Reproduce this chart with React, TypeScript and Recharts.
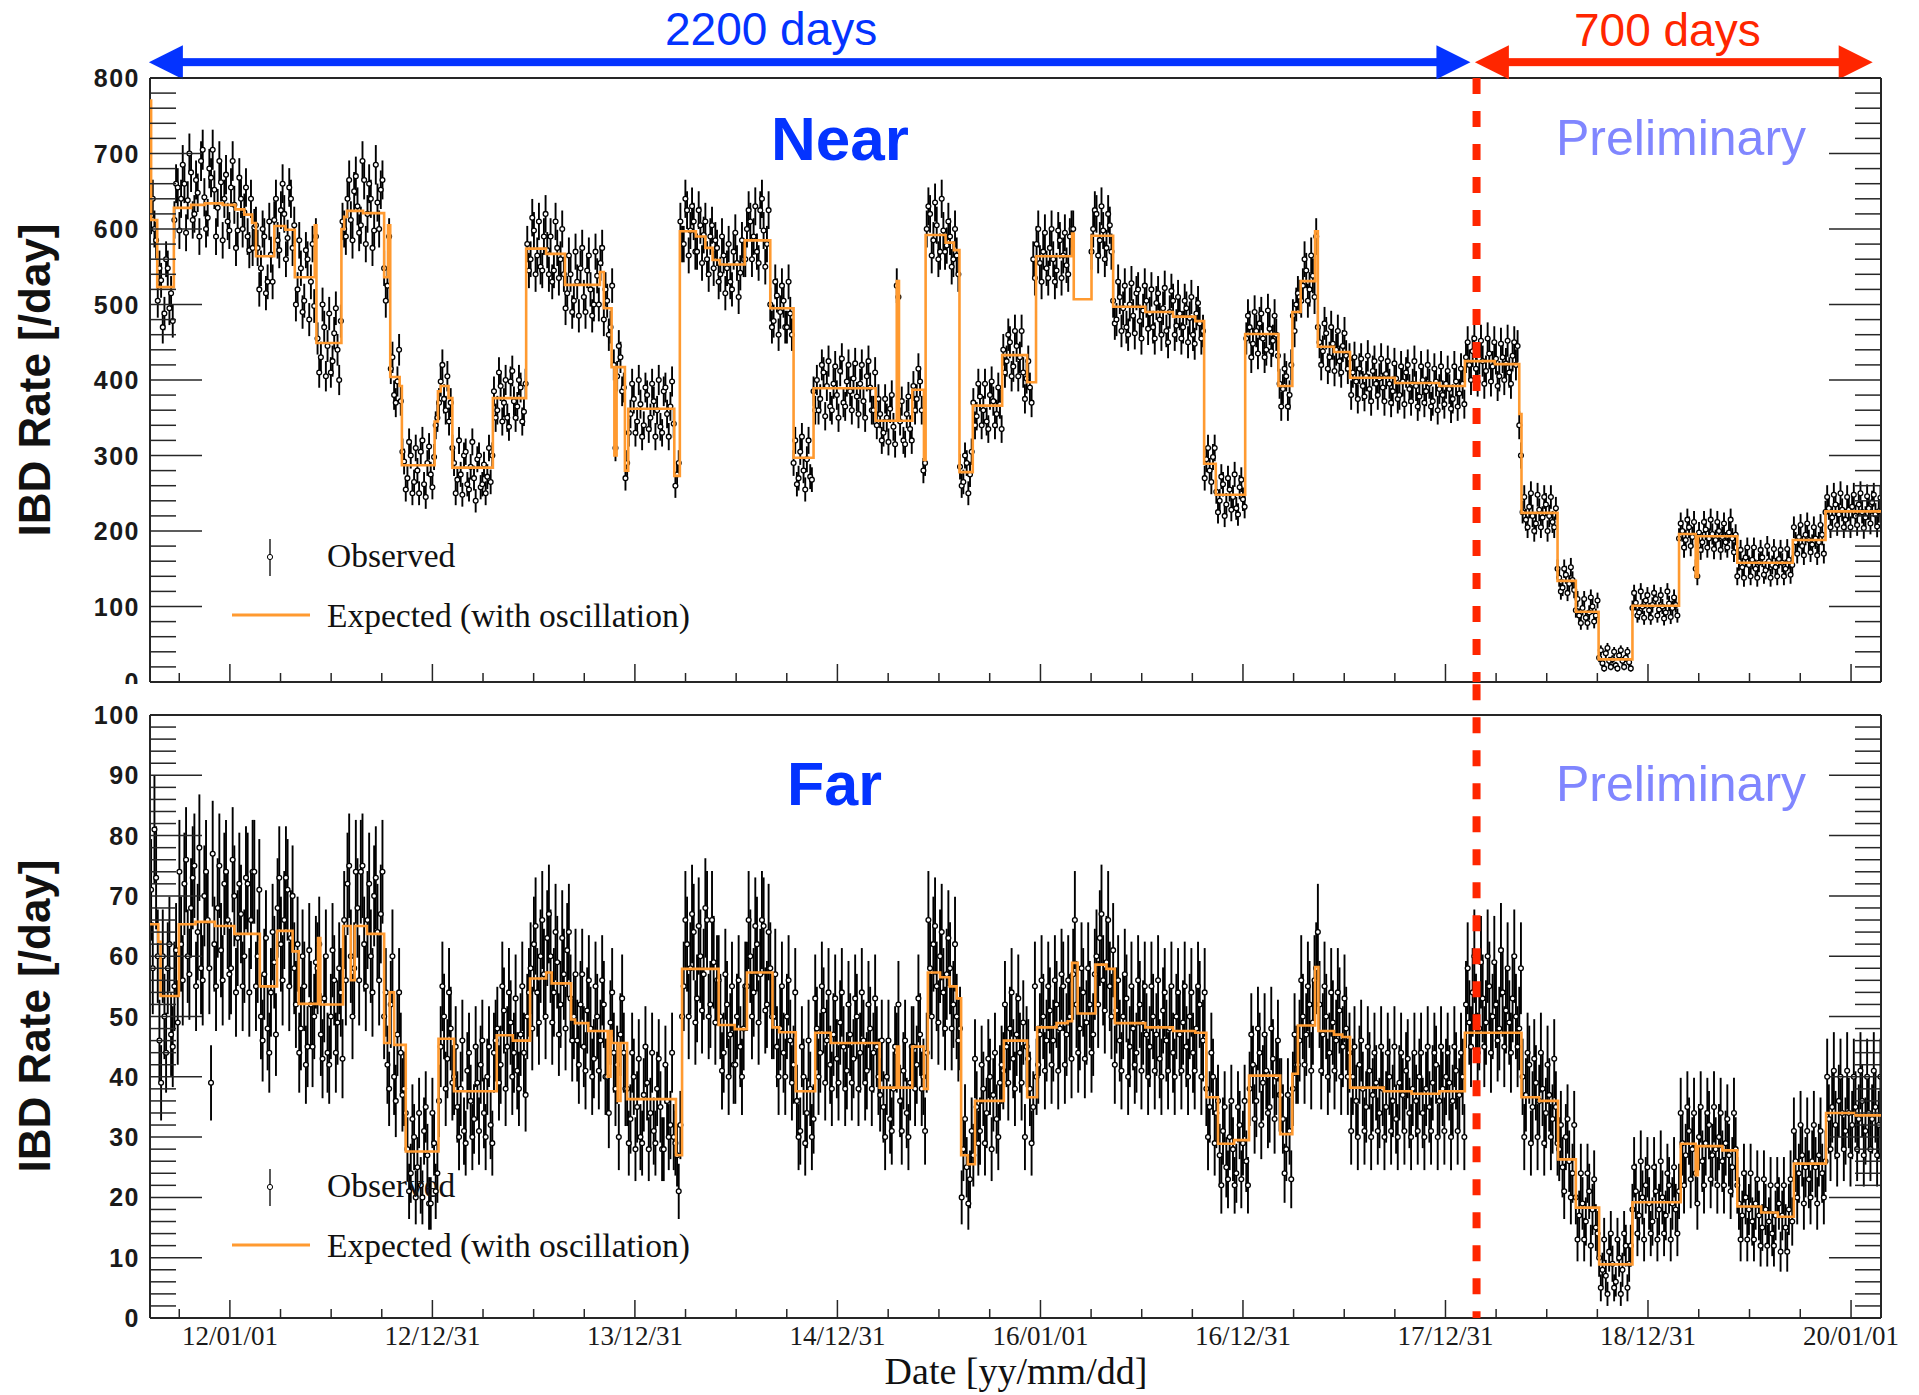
import {
  ComposedChart,
  Line,
  Scatter,
  ErrorBar,
  XAxis,
  YAxis,
  ReferenceLine,
  Legend,
} from 'recharts';

const W = 1919;
const H = 1395;

// x axis: days counted from 2012-01-01
const X_DOMAIN: [number, number] = [-144, 2976];
const DATE_TICKS = [0, 365, 730, 1095, 1461, 1826, 2191, 2556, 2922];
const DATE_LABELS = [
  '12/01/01', '12/12/31', '13/12/31', '14/12/31', '16/01/01',
  '16/12/31', '17/12/31', '18/12/31', '20/01/01',
];
const SPLIT_DAY = 2247;
const ARROW_2200: [number, number] = [-146, 2236];
const ARROW_700: [number, number] = [2244, 2961];

// observed daily rates: two interleaved runs of samples, OBS_STEP days apart
const OBS_STEP = 6;
const OBS_START_A = -142;
const OBS_START_B = -139;

// expected rate (with oscillation), step changes [day, rate]
const NEAR_EXPECTED: [number, number][] = [
  [-144, 770], [-142, 612], [-131, 523], [-101, 628], [-70, 632], [-45, 634], [-13, 632],
  [10, 626], [26, 619], [40, 608], [47, 564], [80, 604], [100, 599], [117, 536], [153, 605],
  [156, 449], [201, 600], [206, 616], [211, 624], [240, 621], [278, 536], [285, 605],
  [289, 404], [306, 392], [310, 287], [369, 345], [375, 385], [380, 392], [394, 376],
  [401, 284], [474, 376], [534, 574], [570, 567], [604, 526], [667, 543], [674, 495],
  [688, 417], [693, 300], [697, 417], [712, 280], [718, 362], [801, 273], [811, 597],
  [840, 590], [857, 575], [870, 559], [883, 553], [928, 585], [974, 495], [1016, 297],
  [1052, 389], [1164, 346], [1202, 531], [1206, 346], [1230, 387], [1251, 294], [1254, 592],
  [1290, 582], [1305, 572], [1315, 278], [1339, 366], [1392, 433], [1437, 397], [1453, 564],
  [1518, 594], [1521, 507], [1553, 591], [1592, 497], [1650, 490], [1700, 484], [1740, 478],
  [1756, 289], [1777, 248], [1830, 461], [1890, 392], [1915, 490], [1930, 531], [1956, 597],
  [1961, 444], [1990, 437], [2019, 403], [2100, 396], [2180, 392], [2226, 425], [2280, 421],
  [2324, 355], [2328, 224], [2393, 134], [2426, 93], [2467, 30], [2528, 101], [2612, 196],
  [2642, 139], [2646, 193], [2717, 158], [2817, 188], [2876, 226], [2976, 226],
];

const FAR_EXPECTED: [number, number][] = [
  [-144, 65.3], [-129, 62.4], [-125, 53.4], [-92, 65.3], [-62, 65.7], [-27, 65.0], [8, 63.7],
  [54, 55.0], [85, 64.2], [113, 60.8], [124, 52.1], [159, 63.0], [163, 52.0], [204, 65.0],
  [218, 56.0], [225, 65.0], [247, 63.7], [278, 45.6], [288, 54.0], [296, 45.3], [317, 27.6],
  [376, 46.3], [404, 37.6], [481, 46.9], [510, 46.0], [541, 56.3], [570, 57.3], [580, 55.5],
  [615, 49.5], [622, 48.9], [646, 47.6], [681, 40.0], [686, 47.6], [688, 45.6], [699, 36.0],
  [704, 45.6], [716, 36.3], [804, 27.0], [815, 57.9], [881, 48.6], [910, 47.9], [932, 57.3],
  [978, 48.2], [990, 47.4], [1020, 37.6], [1055, 47.3], [1083, 45.6], [1171, 38.2],
  [1202, 45.0], [1206, 38.2], [1230, 45.0], [1251, 38.0], [1258, 57.3], [1280, 56.5],
  [1297, 55.0], [1310, 53.0], [1318, 27.0], [1330, 25.5], [1343, 36.0], [1395, 46.0],
  [1437, 36.6], [1455, 48.2], [1490, 48.9], [1510, 49.2], [1518, 58.9], [1528, 50.5],
  [1560, 58.6], [1580, 57.9], [1595, 48.9], [1650, 48.2], [1700, 47.6], [1740, 47.3],
  [1760, 36.6], [1781, 28.9], [1810, 29.5], [1837, 40.2], [1893, 30.5], [1915, 40.5],
  [1925, 48.5], [1956, 58.2], [1962, 47.6], [1990, 47.0], [2005, 46.6], [2019, 38.2],
  [2080, 37.6], [2130, 37.2], [2180, 37.6], [2226, 47.3], [2328, 36.6], [2360, 36.0],
  [2394, 26.3], [2426, 18.3], [2468, 8.9], [2528, 19.2], [2615, 28.9], [2642, 23.7],
  [2646, 28.5], [2690, 27.8], [2717, 18.5], [2760, 17.5], [2790, 16.8], [2819, 25.6],
  [2877, 34.0], [2930, 33.6], [2976, 33.4],
];

// near detector, samples from day -142
const NEAR_OBSERVED_A: (number | null)[] = [
  618, 600, 505, 532, 488, 548, 515, 612, 655, 640,
  660, 638, 675, 620, 648, 690, 642, 615, 668, 652,
  628, 662, 640, 610, 655, 632, 598, 640, 622, 590,
  640, 602, 575, 548, 590, 530, 566, 612, 585, 625,
  620, 588, 640, 605, 520, 548, 505, 560, 530, 498,
  455, 430, 470, 445, 410, 462, 440, 478, 600, 640,
  612, 650, 630, 605, 665, 620, 640, 598, 635, 652,
  548, 525, 415, 380, 398, 372, 292, 270, 300, 265,
  280, 305, 262, 290, 275, 298, 350, 398, 375, 405,
  370, 290, 268, 275, 300, 262, 285, 270, 295, 258,
  288, 272, 265, 385, 360, 392, 370, 350, 398, 372,
  365, 390, 358, 580, 560, 598, 565, 550, 590, 572,
  590, 545, 575, 560, 540, 515, 540, 505, 530, 548,
  510, 545, 520, 500, 538, 555, 480, 505, 470, 420,
  405, 430, 390, 290, 355, 375, 345, 368, 340, 380,
  350, 372, 360, 338, 385, 355, 365, 342, 275, 610,
  580, 625, 598, 610, 570, 605, 592, 560, 590, 548,
  575, 540, 565, 548, 530, 570, 555, 542, 560, 600,
  610, 590, 570, 625, 598, 580, 500, 478, 512, 490,
  505, 470, 488, 290, 262, 305, 280, 295, 272, 385,
  400, 375, 410, 392, 365, 395, 380, 412, 370, 398,
  385, 402, 378, 395, 372, 405, 390, 360, 340, 355,
  330, 350, 362, 338, 525, 345, 320, 355, 335, 392,
  375, 398, 280, 600, 620, 585, 605, 570, 598, 578,
  590, 560, 565, 285, 265, 290, 275, 370, 352, 378,
  360, 345, 380, 372, 355, 368, 440, 425, 450, 418,
  445, 430, 410, 402, 390, 560, 580, 555, 570, 548,
  575, 560, 545, 585, 565, 552, 590, 600, null, null,
  null, null, null, 600, 620, 585, 598, 575, 605, 505,
  480, 510, 495, 470, 500, 485, 515, 478, 492, 505,
  488, 470, 502, 480, 495, 465, 490, 505, 472, 488,
  470, 495, 482, 460, 488, 475, 465, 295, 280, 298,
  252, 240, 262, 235, 255, 245, 230, 258, 242, 455,
  470, 448, 465, 475, 455, 440, 468, 452, 460, 395,
  388, 405, 380, 485, 500, 510, 525, 545, 520, 538,
  590, 450, 438, 462, 430, 448, 440, 425, 445, 432,
  428, 410, 398, 415, 392, 405, 388, 412, 395, 402,
  390, 408, 395, 385, 402, 380, 398, 410, 388, 395,
  392, 378, 400, 385, 395, 372, 398, 388, 380, 395,
  388, 375, 398, 382, 395, 430, 420, 438, 415, 428,
  425, 412, 435, 418, 428, 405, 430, 422, 410, 432,
  420, 340, 225, 215, 232, 220, 210, 228, 218, 235,
  220, 212, 230, 138, 125, 142, 130, 135, 95, 88,
  98, 85, 92, 100, 88, 32, 25, 38, 28, 30,
  22, 35, 28, 32, 26, 98, 105, 92, 100, 108,
  95, 102, 110, 96, 100, 92, 104, 98, 102, 190,
  200, 188, 205, 192, 150, 198, 185, 202, 190, 196,
  188, 200, 192, 185, 198, 190, 195, 160, 152, 165,
  155, 162, 150, 158, 165, 148, 160, 155, 152, 163,
  158, 150, 162, 155, 185, 192, 180, 195, 188, 182,
  190, 185, 195, 225, 230, 218, 235, 222, 228, 215,
  228, 232, 220, 235, 225, 218, 230, 238, 222, 226,
];

// near detector, samples from day -139
const NEAR_OBSERVED_B: (number | null)[] = [
  640, 585, 548, 470, 560, 495, 478, 660, 598, 685,
  595, 700, 612, 665, 590, 705, 600, 680, 705, 590,
  690, 585, 672, 598, 690, 575, 668, 600, 655, 572,
  575, 605, 520, 600, 515, 610, 530, 640, 572, 660,
  560, 655, 575, 500, 585, 490, 572, 480, 580, 590,
  410, 500, 405, 488, 425, 495, 400, 610, 590, 665,
  585, 670, 595, 690, 580, 660, 575, 685, 600, 665,
  505, 590, 430, 370, 440, 305, 255, 318, 250, 310,
  250, 320, 245, 312, 258, 340, 370, 420, 360, 345,
  310, 250, 320, 248, 305, 255, 318, 240, 300, 262,
  250, 310, 300, 350, 410, 345, 400, 338, 412, 350,
  400, 345, 395, 545, 615, 540, 610, 545, 620, 540,
  530, 610, 535, 600, 495, 565, 490, 570, 485, 575,
  490, 565, 485, 570, 500, 575, 520, 460, 525, 310,
  445, 385, 270, 330, 395, 330, 400, 325, 390, 335,
  395, 325, 400, 330, 390, 325, 398, 260, 290, 580,
  640, 565, 630, 570, 625, 555, 610, 540, 605, 585,
  530, 590, 515, 580, 520, 595, 510, 585, 560, 625,
  560, 630, 555, 640, 550, 625, 470, 530, 460, 525,
  470, 530, 460, 320, 270, 325, 255, 320, 268, 360,
  360, 420, 352, 425, 360, 418, 350, 428, 365, 420,
  360, 422, 355, 420, 350, 425, 360, 410, 375, 320,
  375, 318, 380, 315, 510, 372, 315, 378, 320, 360,
  415, 360, 290, 630, 565, 635, 560, 640, 570, 610,
  550, 600, 540, 260, 300, 250, 305, 340, 395, 340,
  395, 335, 398, 340, 390, 335, 410, 460, 405, 465,
  405, 465, 375, 425, 370, 535, 600, 530, 595, 535,
  600, 530, 598, 535, 595, 540, 600, null, null, null,
  null, null, 570, 625, 565, 630, 560, 620, 570, 475,
  530, 465, 525, 460, 528, 462, 520, 455, 525, 468,
  520, 455, 515, 460, 522, 450, 518, 460, 510, 455,
  505, 450, 510, 448, 502, 455, 270, 310, 265, 310,
  225, 272, 220, 270, 228, 275, 222, 268, 232, 485,
  430, 490, 435, 488, 430, 492, 438, 485, 432, 365,
  415, 365, 420, 465, 515, 505, 560, 505, 565, 510,
  470, 420, 475, 415, 470, 412, 465, 410, 462, 415,
  380, 430, 375, 428, 378, 432, 372, 425, 380, 428,
  372, 425, 370, 422, 375, 418, 368, 420, 372, 425,
  365, 418, 370, 420, 365, 415, 360, 418, 368, 412,
  362, 418, 365, 415, 368, 450, 400, 455, 398, 452,
  395, 455, 398, 450, 392, 448, 400, 452, 395, 450,
  445, 300, 245, 205, 250, 200, 248, 205, 245, 200,
  245, 205, 150, 120, 150, 118, 152, 122, 110, 78,
  110, 78, 112, 80, 108, 42, 18, 45, 20, 40,
  18, 42, 20, 40, 18, 118, 88, 120, 85, 115,
  85, 118, 88, 115, 84, 120, 86, 112, 88, 210,
  178, 215, 180, 212, 140, 175, 212, 178, 215, 176,
  212, 175, 210, 178, 215, 172, 140, 175, 138, 178,
  140, 178, 138, 175, 142, 180, 138, 176, 140, 175,
  140, 176, 142, 205, 170, 208, 168, 210, 172, 205,
  168, 208, 170, 245, 205, 248, 208, 250, 205, 245,
  205, 248, 208, 250, 204, 246, 210, 248, 206, 244,
];

// far detector, samples from day -142
const FAR_OBSERVED_A: (number | null)[] = [
  71, 81, 60, 39, 50, 58, 47, 55, 49, 62,
  72, 60, 68, 75, 64, 58, 70, 66, 39, 62,
  68, 61, 72, 66, 58, 70, 63, 67, 60, 72,
  66, 74, 60, 50, 57, 48, 54, 59, 68, 62,
  66, 71, 63, 58, 62, 48, 55, 45, 52, 50,
  58, 47, 53, 44, 50, 56, 49, 54, 66, 72,
  60, 58, 68, 74, 62, 66, 60, 70, 64, 67,
  50, 42, 52, 40, 47, 44, 38, 28, 24, 30,
  25, 22, 31, 27, 19, 29, 24, 45, 50, 43,
  48, 40, 35, 38, 31, 41, 36, 33, 39, 42,
  34, 40, 32, 44, 48, 42, 51, 45, 49, 44,
  41, 47, 44, 50, 58, 62, 54, 60, 57, 63,
  60, 54, 59, 52, 57, 61, 53, 50, 46, 52,
  45, 51, 48, 43, 50, 46, 52, 40, 49, 44,
  42, 47, 44, 38, 33, 40, 35, 30, 37, 39,
  34, 31, 38, 35, 28, 36, 32, 30, 27, 32,
  55, 62, 58, 64, 53, 60, 57, 66, 52, 59,
  56, 50, 44, 52, 47, 42, 50, 45, 48, 55,
  60, 54, 62, 57, 65, 52, 58, 50, 45, 48,
  44, 50, 46, 42, 36, 31, 40, 34, 38, 33,
  48, 44, 51, 46, 42, 47, 43, 49, 45, 41,
  47, 43, 50, 44, 46, 41, 48, 44, 45, 37,
  35, 40, 33, 38, 44, 36, 41, 34, 39, 45,
  42, 47, 40, 44, 58, 62, 55, 60, 54, 57,
  58, 52, 50, 48, 28, 25, 23, 27, 35, 31,
  38, 34, 40, 37, 33, 39, 41, 45, 48, 43,
  47, 44, 49, 45, 38, 35, 40, 47, 50, 46,
  51, 46, 52, 48, 55, 47, 50, 57, 52, 48,
  54, 49, 52, 47, 60, 63, 56, 59, 55, 61,
  51, 46, 50, 53, 45, 48, 44, 52, 49, 47,
  45, 50, 47, 43, 51, 46, 48, 44, 50, 47,
  49, 45, 50, 44, 48, 52, 46, 38, 35, 40,
  34, 27, 31, 25, 30, 28, 24, 32, 29, 26,
  38, 42, 36, 44, 39, 41, 35, 43, 40, 37,
  33, 28, 31, 38, 42, 46, 50, 47, 52, 49,
  58, 52, 47, 50, 44, 49, 46, 51, 45, 48,
  44, 40, 36, 42, 38, 35, 41, 37, 39, 34,
  38, 35, 40, 36, 33, 39, 37, 41, 34, 38,
  36, 40, 34, 38, 35, 39, 42, 36, 38, 40,
  39, 36, 41, 37, 40, 52, 49, 54, 50, 48,
  53, 49, 55, 50, 52, 48, 54, 51, 49, 53,
  50, 48, 40, 37, 42, 35, 39, 36, 38, 34,
  37, 33, 35, 28, 25, 30, 26, 24, 20, 17,
  19, 16, 21, 18, 15, 10, 8, 7, 11, 9,
  6, 10, 8, 12, 9, 18, 21, 17, 20, 22,
  19, 16, 21, 18, 20, 17, 22, 19, 18, 21,
  29, 27, 31, 28, 24, 30, 26, 29, 32, 27,
  28, 30, 26, 29, 27, 25, 28, 19, 17, 20,
  18, 16, 19, 17, 15, 18, 16, 14, 17, 19,
  17, 15, 18, 16, 26, 24, 27, 25, 23, 26,
  25, 27, 24, 26, 33, 35, 32, 36, 34, 31,
  34, 32, 35, 33, 36, 31, 34, 33, 35, 32,
];

// far detector, samples from day -139
const FAR_OBSERVED_B: (number | null)[] = [
  58, 73, 46, 60, 44, 62, 45, 61, 74, 56,
  76, 57, 73, 55, 78, 56, 74, 58, 77, 55,
  75, 56, 74, 57, 76, 54, 72, 55, 73, 54,
  74, 55, 71, 46, 63, 44, 64, 47, 73, 56,
  73, 55, 70, 52, 44, 60, 42, 61, 45, 59,
  62, 43, 60, 42, 61, 44, 58, 43, 56, 75,
  50, 74, 56, 75, 55, 72, 54, 73, 56, 74,
  54, 38, 60, 36, 54, 37, 34, 21, 33, 20,
  34, 20, 35, 19, 34, 21, 36, 55, 38, 54,
  39, 45, 30, 46, 29, 44, 30, 45, 31, 46,
  30, 45, 29, 46, 39, 55, 38, 54, 40, 53,
  38, 55, 37, 54, 48, 65, 49, 66, 50, 67,
  49, 64, 47, 63, 48, 64, 46, 57, 42, 57,
  41, 56, 40, 55, 41, 56, 40, 34, 54, 38,
  30, 53, 38, 29, 44, 28, 43, 29, 45, 28,
  44, 29, 43, 28, 42, 30, 44, 29, 21, 50,
  66, 50, 67, 49, 65, 51, 68, 50, 66, 49,
  56, 41, 57, 40, 55, 42, 56, 40, 55, 66,
  50, 65, 49, 66, 51, 64, 50, 57, 40, 55,
  40, 56, 39, 54, 30, 45, 29, 46, 30, 53,
  40, 55, 39, 54, 38, 53, 39, 54, 38, 52,
  39, 53, 38, 54, 39, 52, 38, 53, 40, 46,
  30, 46, 31, 45, 52, 31, 46, 30, 45, 38,
  53, 38, 31, 66, 50, 65, 49, 64, 48, 63,
  48, 62, 46, 20, 33, 19, 31, 43, 29, 42,
  29, 43, 28, 44, 30, 42, 52, 39, 54, 38,
  53, 39, 30, 43, 29, 55, 42, 56, 41, 55,
  42, 56, 41, 57, 42, 56, 43, 66, 44, 58,
  43, 58, 44, 57, 52, 67, 51, 66, 50, 42,
  56, 41, 57, 40, 55, 42, 56, 41, 55, 40,
  55, 41, 56, 40, 54, 41, 55, 40, 54, 41,
  55, 40, 54, 41, 55, 40, 54, 30, 44, 29,
  36, 22, 35, 23, 36, 22, 35, 23, 36, 22,
  47, 33, 48, 32, 47, 34, 48, 33, 46, 37,
  24, 37, 23, 47, 42, 56, 42, 55, 41, 56,
  64, 41, 55, 40, 54, 41, 54, 40, 53, 40,
  31, 45, 30, 46, 31, 45, 30, 44, 31, 45,
  30, 44, 31, 45, 30, 44, 31, 43, 30, 44,
  31, 44, 30, 45, 31, 44, 30, 45, 31, 44,
  30, 45, 31, 44, 30, 58, 45, 60, 44, 59,
  45, 60, 44, 59, 46, 61, 45, 58, 44, 60,
  45, 58, 30, 44, 29, 43, 30, 44, 29, 42,
  30, 43, 29, 32, 21, 33, 20, 32, 13, 24,
  13, 24, 12, 23, 14, 5, 13, 4, 14, 5,
  13, 4, 14, 5, 12, 25, 14, 26, 13, 25,
  14, 25, 13, 26, 14, 24, 13, 25, 14, 34,
  22, 35, 23, 34, 19, 35, 22, 34, 23, 35,
  22, 34, 22, 33, 21, 34, 22, 13, 24, 13,
  24, 13, 23, 12, 23, 12, 22, 12, 22, 11,
  22, 11, 23, 31, 20, 32, 19, 31, 20, 32,
  19, 31, 20, 40, 28, 41, 27, 40, 28, 41,
  27, 40, 28, 41, 27, 40, 28, 41, 27, 40,
];

const AXIS = '#262626';
const ORANGE = '#ff9a30';
const BLUE = '#0433ff';
const RED = '#ff2600';
const PRELIM = '#8086ff';
const SANS = '"Liberation Sans", Arial, sans-serif';
const SERIF = '"Liberation Serif", "Times New Roman", serif';

// observed counts carry a Poisson error of sqrt(N)
const toObserved = (runs: [number, (number | null)[]][]) =>
  runs
    .flatMap(([start, vals]) =>
      vals.map((v, i) => ({ day: start + i * OBS_STEP, obs: v, err: v == null ? 0 : Math.sqrt(v) })),
    )
    .filter((p) => p.obs != null)
    .sort((a, b) => a.day - b.day);

const toExpected = (steps: [number, number][]) => steps.map(([day, exp]) => ({ day, exp }));

// ROOT style: 4 minor divisions per year on the time axis
const xMinor: number[] = [DATE_TICKS[0] - (DATE_TICKS[1] - DATE_TICKS[0]) / 4];
for (let i = 0; i < DATE_TICKS.length - 1; i++) {
  for (let k = 1; k < 4; k++) {
    xMinor.push(DATE_TICKS[i] + ((DATE_TICKS[i + 1] - DATE_TICKS[i]) * k) / 4);
  }
}
const X_TICKS = [...DATE_TICKS, ...xMinor].sort((a, b) => a - b);

const yTicks = (max: number, major: number) => {
  const out: number[] = [];
  const minor = major / 5;
  for (let i = 0; i * minor <= max; i++) out.push(i * minor);
  return out;
};

const xTick = (dir: 1 | -1, withLabels: boolean) => (props: any) => {
  const { x, y, payload } = props;
  const idx = DATE_TICKS.indexOf(payload.value);
  const len = idx >= 0 ? 18 : 9;
  return (
    <g>
      <line x1={x} x2={x} y1={y} y2={y + dir * len} stroke={AXIS} strokeWidth={1.5} />
      {withLabels && idx >= 0 && (
        <text x={x} y={y + 27} textAnchor="middle" fontFamily={SERIF} fontSize={27} fill="#1a1a1a">
          {DATE_LABELS[idx]}
        </text>
      )}
    </g>
  );
};

const yTick = (dir: 1 | -1, major: number, withLabels: boolean) => (props: any) => {
  const { x, y, payload } = props;
  const isMajor = Math.round(payload.value) % major === 0;
  const len = isMajor ? 52 : 26;
  return (
    <g>
      <line x1={x} x2={x + dir * len} y1={y} y2={y} stroke={AXIS} strokeWidth={1.5} />
      {withLabels && isMajor && (
        <text
          x={x - 10}
          y={y}
          dy="0.36em"
          textAnchor="end"
          fontFamily={SANS}
          fontWeight="bold"
          fontSize={25}
          letterSpacing={1.5}
          fill="#1a1a1a"
        >
          {payload.value}
        </text>
      )}
    </g>
  );
};

const arrowShape = (color: string) => (props: any) => {
  const { x1, x2, y1 } = props;
  const head = 34;
  const half = 17;
  const shaft = 8;
  return (
    <g>
      <rect x={x1 + head - 1} y={y1 - shaft / 2} width={x2 - x1 - 2 * head + 2} height={shaft} fill={color} />
      <polygon points={`${x1},${y1} ${x1 + head},${y1 - half} ${x1 + head},${y1 + half}`} fill={color} />
      <polygon points={`${x2},${y1} ${x2 - head},${y1 - half} ${x2 - head},${y1 + half}`} fill={color} />
    </g>
  );
};

const circleShape = (p: any) => (
  <circle cx={p.cx} cy={p.cy} r={2.4} fill="#fff" stroke="#000" strokeWidth={1.3} />
);

const LegendBox = () => (
  <svg width={560} height={110}>
    <line x1={70} x2={70} y1={4} y2={41} stroke="#000" strokeWidth={1.3} />
    <circle cx={70} cy={22} r={2.6} fill="#fff" stroke="#000" strokeWidth={1} />
    <text x={127} y={32} fontFamily={SERIF} fontSize={33.5} fill="#111">Observed</text>
    <line x1={32} x2={110} y1={80} y2={80} stroke={ORANGE} strokeWidth={3} />
    <text x={127} y={92} fontFamily={SERIF} fontSize={33.5} fill="#111">Expected (with oscillation)</text>
  </svg>
);

interface PanelProps {
  top: number;
  height: number;
  marginTop: number;
  topAxisH: number;
  bottomAxisH: number;
  yMax: number;
  yMajor: number;
  observedA: (number | null)[];
  observedB: (number | null)[];
  expected: [number, number][];
  showDates: boolean;
  splitFrom: number;
  legendTop: number;
  arrowY?: number;
}

function Panel(p: PanelProps) {
  const ticksY = yTicks(p.yMax, p.yMajor);
  const axisLine = { stroke: AXIS, strokeWidth: 2 };
  const observed = toObserved([
    [OBS_START_A, p.observedA],
    [OBS_START_B, p.observedB],
  ]);
  return (
    <div style={{ position: 'absolute', left: 0, top: p.top, width: W, height: p.height, background: '#fff' }}>
      <ComposedChart
        width={W}
        height={p.height}
        margin={{ top: p.marginTop, right: 8, bottom: 0, left: 50 }}
      >
        <XAxis
          xAxisId="b"
          type="number"
          dataKey="day"
          domain={X_DOMAIN}
          allowDataOverflow
          ticks={X_TICKS}
          interval={0}
          height={p.bottomAxisH}
          tickSize={0}
          tickMargin={0}
          tickLine={false}
          axisLine={axisLine}
          tick={xTick(-1, p.showDates)}
        />
        <XAxis
          xAxisId="t"
          orientation="top"
          type="number"
          domain={X_DOMAIN}
          allowDataOverflow
          ticks={X_TICKS}
          interval={0}
          height={p.topAxisH}
          tickSize={0}
          tickMargin={0}
          tickLine={false}
          axisLine={axisLine}
          tick={xTick(1, false)}
        />
        <YAxis
          yAxisId="l"
          type="number"
          domain={[0, p.yMax]}
          allowDataOverflow
          ticks={ticksY}
          interval={0}
          width={100}
          tickSize={0}
          tickMargin={0}
          tickLine={false}
          axisLine={axisLine}
          tick={yTick(1, p.yMajor, true)}
        />
        <YAxis
          yAxisId="r"
          orientation="right"
          type="number"
          domain={[0, p.yMax]}
          allowDataOverflow
          ticks={ticksY}
          interval={0}
          width={30}
          tickSize={0}
          tickMargin={0}
          tickLine={false}
          axisLine={axisLine}
          tick={yTick(-1, p.yMajor, false)}
        />
        <Scatter
          xAxisId="b"
          yAxisId="l"
          data={observed}
          dataKey="obs"
          shape={circleShape}
          isAnimationActive={false}
          zIndex={450}
        >
          <ErrorBar dataKey="err" direction="y" width={0} stroke="#000" strokeWidth={1.9} />
        </Scatter>
        <Line
          xAxisId="b"
          yAxisId="l"
          data={toExpected(p.expected)}
          dataKey="exp"
          type="stepAfter"
          stroke={ORANGE}
          strokeWidth={2.6}
          dot={false}
          activeDot={false}
          isAnimationActive={false}
          zIndex={650}
        />
        <ReferenceLine
          xAxisId="b"
          yAxisId="l"
          segment={[{ x: SPLIT_DAY, y: p.splitFrom }, { x: SPLIT_DAY, y: 0 }]}
          stroke={RED}
          strokeWidth={8}
          strokeDasharray="16 17"
          ifOverflow="visible"
          zIndex={800}
        />
        {p.arrowY != null && (
          <ReferenceLine
            xAxisId="b"
            yAxisId="l"
            segment={[{ x: ARROW_2200[0], y: p.arrowY }, { x: ARROW_2200[1], y: p.arrowY }]}
            ifOverflow="visible"
            shape={arrowShape(BLUE)}
            zIndex={800}
          />
        )}
        {p.arrowY != null && (
          <ReferenceLine
            xAxisId="b"
            yAxisId="l"
            segment={[{ x: ARROW_700[0], y: p.arrowY }, { x: ARROW_700[1], y: p.arrowY }]}
            ifOverflow="visible"
            shape={arrowShape(RED)}
            zIndex={800}
          />
        )}
        <Legend
          layout="vertical"
          align="center"
          verticalAlign="middle"
          wrapperStyle={{ left: 200, top: p.legendTop, width: 560, height: 110 }}
          content={() => <LegendBox />}
        />
      </ComposedChart>
    </div>
  );
}

export default function App() {
  return (
    <div style={{ position: 'absolute', left: 0, top: 0, width: W, height: H, background: '#fff' }}>
      <Panel
        top={0}
        height={700}
        marginTop={58}
        topAxisH={20}
        bottomAxisH={18}
        yMax={800}
        yMajor={100}
        observedA={NEAR_OBSERVED_A}
        observedB={NEAR_OBSERVED_B}
        expected={NEAR_EXPECTED}
        showDates={false}
        splitFrom={800}
        legendTop={535}
        arrowY={821}
      />
      <Panel
        top={684}
        height={711}
        marginTop={0}
        topAxisH={31}
        bottomAxisH={77}
        yMax={100}
        yMajor={10}
        observedA={FAR_OBSERVED_A}
        observedB={FAR_OBSERVED_B}
        expected={FAR_EXPECTED}
        showDates
        splitFrom={105.1}
        legendTop={481}
      />
      <svg
        width={W}
        height={H}
        style={{ position: 'absolute', left: 0, top: 0, pointerEvents: 'none' }}
      >
        <text x={665} y={45} fontFamily={SANS} fontSize={46} fill={BLUE}>2200 days</text>
        <text x={1574} y={46} fontFamily={SANS} fontSize={46} fill={RED}>700 days</text>
        <text x={771} y={160} fontFamily={SANS} fontWeight="bold" fontSize={62} fill={BLUE}>Near</text>
        <text x={787} y={805} fontFamily={SANS} fontWeight="bold" fontSize={61} fill={BLUE}>Far</text>
        <text x={1556} y={155} fontFamily={SANS} fontSize={50} fill={PRELIM}>Preliminary</text>
        <text x={1556} y={801} fontFamily={SANS} fontSize={50} fill={PRELIM}>Preliminary</text>
        <text
          x={50}
          y={380}
          transform="rotate(-90 50 380)"
          textAnchor="middle"
          fontFamily={SANS}
          fontWeight="bold"
          fontSize={44}
          fill="#111"
        >
          IBD Rate [/day]
        </text>
        <text
          x={50}
          y={1016}
          transform="rotate(-90 50 1016)"
          textAnchor="middle"
          fontFamily={SANS}
          fontWeight="bold"
          fontSize={44}
          fill="#111"
        >
          IBD Rate [/day]
        </text>
        <text x={1016} y={1384} textAnchor="middle" fontFamily={SERIF} fontSize={38} fill="#111">
          Date [yy/mm/dd]
        </text>
      </svg>
    </div>
  );
}
